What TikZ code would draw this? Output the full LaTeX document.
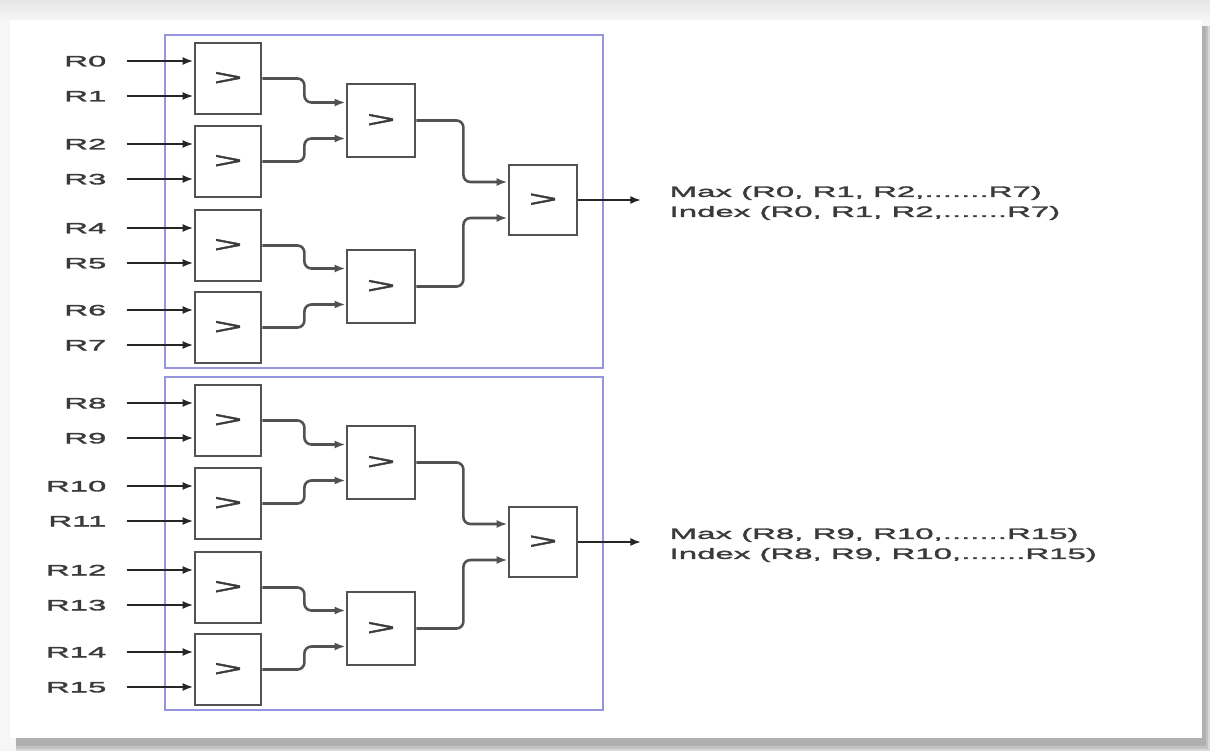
\documentclass[tikz,border=0pt]{standalone}
\usepackage{fontspec}
\newfontfamily\widefont{Liberation Sans}[FakeStretch=2.2,FakeBold=2]
\usetikzlibrary{arrows.meta,calc}
\definecolor{linegray}{HTML}{525252}
\definecolor{textgray}{HTML}{3A3A3A}
\definecolor{framecol}{RGB}{150,150,222}
\tikzset{
  cmp/.style={draw=linegray, line width=2.8pt, minimum width=66pt, minimum height=71pt,
    inner sep=0pt, font=\widefont\fontsize{22}{22}\selectfont, text=textgray},
  cmpb/.style={cmp, minimum width=68pt, minimum height=73pt},
  cmpc/.style={cmp, minimum width=68pt, minimum height=70pt},
  lab/.style={font=\widefont\fontsize{15}{15}\selectfont, text=textgray, anchor=east,
    inner sep=0pt, text height=10.7pt, text depth=0pt},
  inarrow/.style={draw=black!85, line width=2.4pt, -{Latex[length=11pt,width=8pt]}},
  wire/.style={draw=linegray, line width=2.6pt, rounded corners=7pt, -{Latex[length=11pt,width=8pt]}},
  frame/.style={draw=framecol, line width=1.8pt, minimum width=438pt, minimum height=333pt, inner sep=0pt},
  outtext/.style={font=\widefont\fontsize{15}{20}\selectfont, text=textgray, align=left,
    anchor=west, inner sep=0pt}
}
\newcommand\halftree[3]{%
\begin{scope}[yshift=#1, name prefix=#2-]
  \node[frame] (F) at (384,201.5) {};
  \foreach \b/\cy in {1/78.5, 2/161.5, 3/245.5, 4/327.5} {
    \node[cmp] (A\b) at (228,\cy) {>};
  }
  \node[cmpb] (B1) at (381,120.5) {>};
  \node[cmpb] (B2) at (381,286.5) {>};
  \node[cmpc] (C) at (543,200) {>};
  \foreach \b in {1,...,4} {
    \pgfmathtruncatemacro\ia{#2+2*(\b-1)}
    \pgfmathtruncatemacro\ib{\ia+1}
    \node[lab] (R\ia) at ([xshift=-87pt,yshift=17.5pt]A\b.west) {R\ia};
    \node[lab] (R\ib) at ([xshift=-87pt,yshift=-17.5pt]A\b.west) {R\ib};
    \draw[inarrow] ([xshift=20pt]R\ia.east) -- ([yshift=17.5pt]A\b.west);
    \draw[inarrow] ([xshift=20pt]R\ib.east) -- ([yshift=-17.5pt]A\b.west);
  }
  \draw[wire] (A1.east) -- ++(42,0) |- ([yshift=18pt]B1.west);
  \draw[wire] (A2.east) -- ++(42,0) |- ([yshift=-18pt]B1.west);
  \draw[wire] (A3.east) -- ++(42,0) |- ([yshift=18pt]B2.west);
  \draw[wire] (A4.east) -- ++(42,0) |- ([yshift=-18pt]B2.west);
  \draw[wire] (B1.east) -- ++(47,0) |- ([yshift=18pt]C.west);
  \draw[wire] (B2.east) -- ++(47,0) |- ([yshift=-18pt]C.west);
  \coordinate (out) at ([xshift=63pt]C.east);
  \draw[inarrow] (C.east) -- (out);
  \node[outtext] (T) at ([xshift=28pt,yshift=-3pt]out) {#3};
\end{scope}}
\begin{document}
\begin{tikzpicture}[x=1pt,y=-1pt]
  \useasboundingbox (0,0) rectangle (1210,751);
  % page background and drop shadow
  \fill[gray!7] (0,0) rectangle (1210,751);
  \shade[top color=gray!20, bottom color=gray!6] (0,0) rectangle (1210,22);
  \fill[gray!30] (16,26) rectangle (1210,751);
  \fill[gray!48] (16,26) rectangle (1208,749);
  \fill[gray!62] (16,26) rectangle (1206,746);
  \fill[white] (10,20) rectangle (1202,738);
  \halftree{0pt}{0}{Max (R0, R1, R2,.......R7)\\Index (R0, R1, R2,.......R7)}
  \halftree{-342pt}{8}{Max (R8, R9, R10,.......R15)\\Index (R8, R9, R10,.......R15)}
\end{tikzpicture}
\end{document}
